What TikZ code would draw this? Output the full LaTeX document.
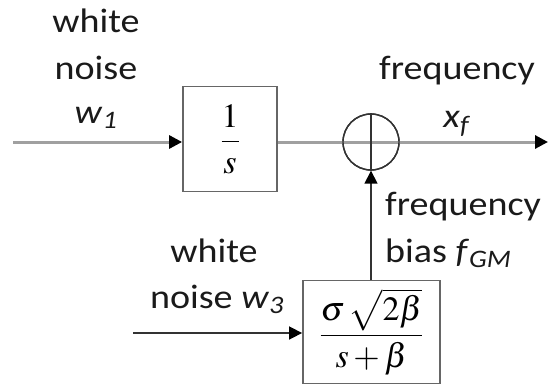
\documentclass[tikz,border=0pt]{standalone}
\usepackage{mathptmx}
\usepackage[no-math]{fontspec}
\setmainfont[FakeStretch=1.12]{Carlito}
\usetikzlibrary{arrows.meta}
\newcommand\lblfont{\fontsize{34}{40}\selectfont}
\newcommand\mathfont{\fontsize{34}{40}\selectfont}
\definecolor{lgray}{HTML}{A0A0A0}
\definecolor{dgray}{HTML}{333333}
\definecolor{bgray}{HTML}{666666}
\definecolor{tgray}{HTML}{1A1A1A}
\begin{document}
\begin{tikzpicture}[x=1pt,y=-1pt,
  lbl/.style={font=\lblfont, anchor=base, inner sep=0pt, text=tgray},
  blk/.style={draw=bgray, line width=1.8pt, fill=white, inner sep=0pt, font=\mathfont},
  gline/.style={draw=lgray, line width=3pt},
  dline/.style={draw=dgray, line width=1.6pt},
  tip/.style={-{Triangle[length=13pt,width=13pt,color=black]}},
  sumc/.style={circle, draw=dgray, line width=1.4pt, minimum size=56pt, inner sep=0pt}
]
\useasboundingbox (0,0) rectangle (548,385);
% blocks
\node[blk, minimum width=94pt, minimum height=105pt] (b1) at (230,139) {$\displaystyle\frac{1}{s}$};
\node[blk, minimum width=137pt, minimum height=103pt] (b2) at (371.5,332) {$\displaystyle\frac{\sigma\,\sqrt{2\beta}}{s+\beta}$};
\node[sumc] (sum) at (371,142) {};
% free ends
\coordinate (in1) at (13,142);
\coordinate (out) at (548,142);
\coordinate (in3) at (133,333);
% connectors
\draw[gline, tip] (in1) -- (in1 -| b1.west);
\draw[gline] (b1.east |- sum) -- (sum.west);
\draw[gline] (sum.west) -- (sum.east);
\draw[gline, tip] (sum.east) -- (out);
\draw[dline] (sum.north) -- (sum.south);
\draw[dline, tip] (b2.north -| sum) -- (sum.south);
\draw[dline, tip] (in3) -- (in3 -| b2.west);
\node[sumc] at (sum) {};
% labels
\node[lbl] (t1a) at (96,33) {white};
\node[lbl] (t1b) at (96,80) {noise};
\node[lbl] (t1c) at (96,123) {\textit{w}\textsubscript{\textit{1}}};
\node[lbl] (t2a) at (457,80) {frequency};
\node[lbl] (t2b) at (457,128) {\textit{x}\textsubscript{\textit{f}}};
\node[lbl, anchor=base west] (t3a) at (385,215) {frequency};
\node[lbl, anchor=base west] (t3b) at (385,262) {bias \textit{f}\textsubscript{\textit{GM}}};
\node[lbl] (t4a) at (214,262) {white};
\node[lbl] (t4b) at (217,308) {noise \textit{w}\textsubscript{\textit{3}}};
\end{tikzpicture}
\end{document}
